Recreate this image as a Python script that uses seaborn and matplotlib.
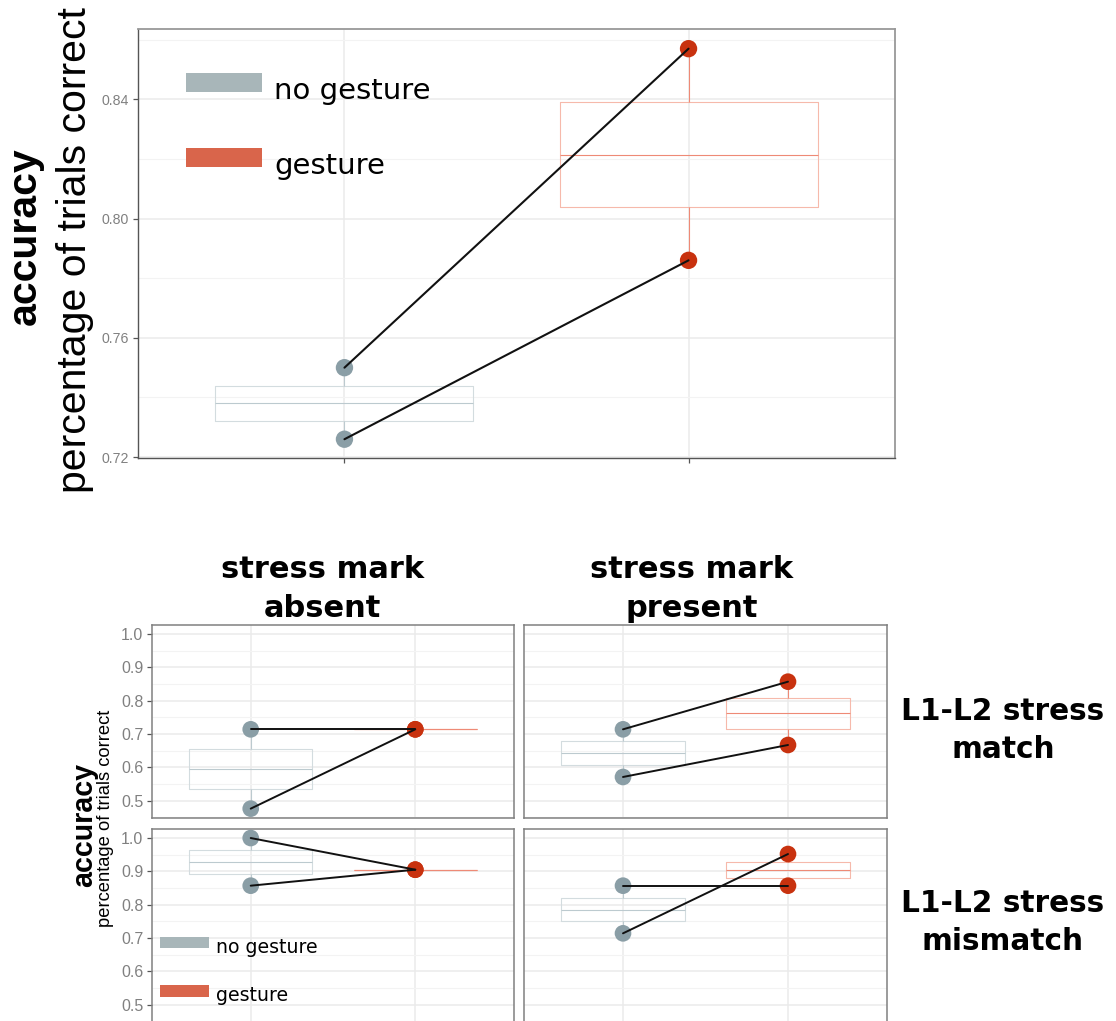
import numpy as np
import pandas as pd
import matplotlib
matplotlib.use("Agg")
import matplotlib.pyplot as plt
import seaborn as sns
from matplotlib.patches import Rectangle
from matplotlib.ticker import MultipleLocator, FixedLocator

# ---------------- data ----------------
conditions = ["no gesture", "gesture"]
subjects = ["A", "B"]

top_no_gesture = [0.750, 0.726]
top_gesture = [0.857, 0.786]

match_absent_no_gesture = [0.714, 0.476]
match_absent_gesture = [0.714, 0.714]
match_present_no_gesture = [0.714, 0.571]
match_present_gesture = [0.857, 0.667]
mismatch_absent_no_gesture = [1.000, 0.857]
mismatch_absent_gesture = [0.905, 0.905]
mismatch_present_no_gesture = [0.857, 0.714]
mismatch_present_gesture = [0.857, 0.952]

column_titles = ["stress mark", "absent"], ["stress mark", "present"]
row_titles = ["L1-L2 stress", "match"], ["L1-L2 stress", "mismatch"]
top_yticks = [0.72, 0.76, 0.80, 0.84]
bottom_yticks = [0.5, 0.6, 0.7, 0.8, 0.9, 1.0]

# ---------------- style ----------------
sns.set_style("white")
plt.rcParams["font.family"] = ["Liberation Sans", "DejaVu Sans"]
plt.rcParams["text.color"] = "black"

point_pal = {"no gesture": "#8a9ea6", "gesture": "#c8320f"}
box_edge = {"no gesture": "#d3dcdf", "gesture": "#f6b9ab"}
box_med = {"no gesture": "#bccacf", "gesture": "#ee8a76"}
legend_cols = {"no gesture": "#a8b6b9", "gesture": "#d9654b"}

W, H = 1116, 1021
fig = plt.figure(figsize=(W / 100, H / 100), dpi=100)


def rect(l, t, r, b):
    return [l / W, 1 - b / H, (r - l) / W, (b - t) / H]


def fx(x):
    return x / W


def fy(y):
    return 1 - y / H


def make_df(no_g, g):
    rows = []
    for s, v in zip(subjects, no_g):
        rows.append({"subj": s, "cond": "no gesture", "acc": v})
    for s, v in zip(subjects, g):
        rows.append({"subj": s, "cond": "gesture", "acc": v})
    return pd.DataFrame(rows)


def draw_panel(ax, no_g, g, pt_size, box_lw, line_w):
    df = make_df(no_g, g)
    for c in conditions:
        sns.boxplot(data=df[df["cond"] == c], x="cond", y="acc", order=conditions,
                    color=box_edge[c], fill=False, saturation=1, width=0.75,
                    showcaps=False, whis=10, linewidth=box_lw, showfliers=False,
                    medianprops={"color": box_med[c], "linewidth": box_lw},
                    whiskerprops={"color": box_med[c], "linewidth": box_lw},
                    ax=ax)
    sns.stripplot(data=df, x="cond", y="acc", hue="cond", order=conditions,
                  hue_order=conditions, palette=point_pal, jitter=False,
                  size=pt_size, linewidth=0, legend=False, zorder=3, ax=ax)
    sns.pointplot(data=df, x="cond", y="acc", hue="subj", order=conditions,
                  hue_order=subjects, palette=["#111111", "#111111"], markers="",
                  errorbar=None, legend=False, linewidth=line_w, zorder=4, ax=ax)
    ax.set_xlim(-0.6, 1.6)
    ax.set_xlabel("")
    ax.set_ylabel("")
    ax.grid(False)
    ax.set_axisbelow(True)
    ax.xaxis.grid(True, which="major", color="#ebebeb", lw=1.1)


# ---------------- top panel ----------------
ax0 = fig.add_axes(rect(138, 29, 895, 458.3))
draw_panel(ax0, top_no_gesture, top_gesture, 12.5, 0.8, 1.5)
ax0.set_ylim(0.7196, 0.8636)
ax0.yaxis.set_major_locator(FixedLocator(top_yticks))
ax0.set_yticklabels([f"{v:.2f}" for v in top_yticks])
ax0.yaxis.set_minor_locator(MultipleLocator(0.02))
ax0.yaxis.grid(True, which="major", color="#ebebeb", lw=1.1)
ax0.yaxis.grid(True, which="minor", color="#f3f3f3", lw=0.8)
ax0.tick_params(axis="y", which="major", length=3.6, width=0.9, color="#555555",
                labelsize=10.2, labelcolor="#808080", pad=3, left=True)
ax0.tick_params(axis="y", which="minor", length=0)
ax0.tick_params(axis="x", length=3.6, width=0.9, color="#555555", labelbottom=False,
                bottom=True)
for side in ["left", "bottom"]:
    ax0.spines[side].set_color("#555555")
    ax0.spines[side].set_linewidth(1.0)
for side in ["top", "right"]:
    ax0.spines[side].set_color("#999999")
    ax0.spines[side].set_linewidth(1.3)

# top legend
for lab, top, base in [("no gesture", 73, 99), ("gesture", 148, 174)]:
    fig.patches.append(Rectangle((fx(186), fy(top + 19)), 76 / W, 19 / H,
                                 transform=fig.transFigure, color=legend_cols[lab],
                                 lw=0, zorder=5))
    fig.text(fx(274), fy(base), lab, fontsize=21, family="DejaVu Sans",
             ha="left", va="baseline", color="black")

# top axis titles
fig.text(fx(25), fy(236), "accuracy", rotation=90, fontsize=29.5, fontweight="bold",
         ha="center", va="center")
fig.text(fx(75), fy(250), "percentage of trials correct", rotation=90, fontsize=29.5,
         ha="center", va="center")

# ---------------- facet panels ----------------
cols_x = [(152, 514), (524, 887)]
rows_y = [(625.3, 817.7), (829.3, 1021.7)]
panel_data = [
    [(match_absent_no_gesture, match_absent_gesture),
     (match_present_no_gesture, match_present_gesture)],
    [(mismatch_absent_no_gesture, mismatch_absent_gesture),
     (mismatch_present_no_gesture, mismatch_present_gesture)],
]

for r, (t, b) in enumerate(rows_y):
    for c, (l, rr) in enumerate(cols_x):
        ax = fig.add_axes(rect(l, t, rr, b))
        no_g, g = panel_data[r][c]
        draw_panel(ax, no_g, g, 12, 0.8, 1.4)
        ax.set_ylim(0.4488, 1.0262)
        ax.yaxis.set_major_locator(FixedLocator(bottom_yticks))
        ax.yaxis.set_minor_locator(MultipleLocator(0.05))
        ax.yaxis.grid(True, which="major", color="#ebebeb", lw=1.1)
        ax.yaxis.grid(True, which="minor", color="#f3f3f3", lw=0.8)
        ax.tick_params(axis="y", which="minor", length=0)
        ax.tick_params(axis="x", length=0, labelbottom=False)
        if c == 0:
            ax.set_yticklabels([f"{v:.1f}" for v in bottom_yticks])
            ax.tick_params(axis="y", which="major", length=3.6, width=0.9,
                           color="#555555", labelsize=11.5, labelcolor="#808080",
                           pad=2.7, left=True)
        else:
            ax.tick_params(axis="y", which="major", length=0, labelleft=False)
        for side in ax.spines.values():
            side.set_color("#808080")
            side.set_linewidth(1.1)

# bottom legend
for lab, top, base in [("no gesture", 936.7, 953), ("gesture", 985, 1001)]:
    fig.patches.append(Rectangle((fx(160), fy(top + 11.6)), 49 / W, 11.6 / H,
                                 transform=fig.transFigure, color=legend_cols[lab],
                                 lw=0, zorder=5))
    fig.text(fx(216), fy(base), lab, fontsize=13.6, family="DejaVu Sans",
             ha="left", va="baseline", color="black", zorder=6)

# bottom axis titles
fig.text(fx(84), fy(825), "accuracy", rotation=90, fontsize=20.6, fontweight="bold",
         ha="center", va="center")
fig.text(fx(105), fy(818), "percentage of trials correct", rotation=90, fontsize=13.2,
         ha="center", va="center")

# column titles
for (lines, cx) in zip(column_titles, [322.5, 691.5]):
    for line, base in zip(lines, [578.5, 616.5]):
        fig.text(fx(cx), fy(base), line, fontsize=22, fontweight="bold",
                 family="DejaVu Sans", ha="center", va="baseline")

# row titles
for (lines, bases) in zip(row_titles, [(720, 758), (912, 950)]):
    for line, base in zip(lines, bases):
        fig.text(fx(1003), fy(base), line, fontsize=21.3, fontweight="bold",
                 family="DejaVu Sans", ha="center", va="baseline")

fig.savefig("out.png", dpi=100)
